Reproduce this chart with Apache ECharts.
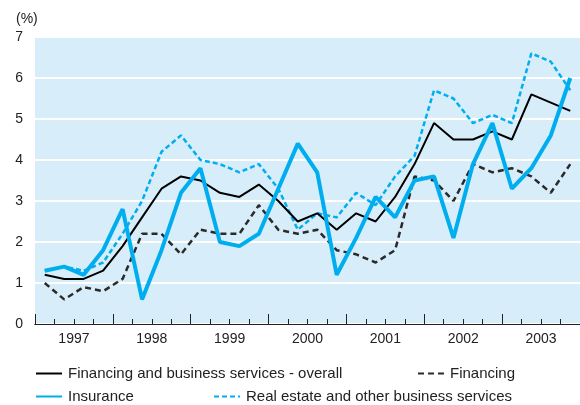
<!DOCTYPE html>
<html>
<head>
<meta charset="utf-8">
<script src="https://cdn.jsdelivr.net/npm/echarts@6/dist/echarts.min.js"></script>
<style>
  html, body { margin: 0; padding: 0; background: #fff; }
  #chart { width: 580px; height: 405px; }
</style>
</head>
<body>
<div id="chart"></div>
<script>
// quarters 1997 Q1 .. 2003 Q4
const years = ['1997', '1998', '1999', '2000', '2001', '2002', '2003']
const quarters = []
years.forEach(y => ['Q1', 'Q2', 'Q3', 'Q4'].forEach(q => quarters.push(y + ' ' + q)))

const overall = [1.2, 1.1, 1.1, 1.3, 1.9, 2.6, 3.3, 3.6, 3.5, 3.2, 3.1, 3.4, 3.0, 2.5, 2.7, 2.3,
  2.7, 2.5, 3.1, 3.9, 4.9, 4.5, 4.5, 4.7, 4.5, 5.6, 5.4, 5.2]
const financing = [1.0, 0.6, 0.9, 0.8, 1.1, 2.2, 2.2, 1.7, 2.3, 2.2, 2.2, 2.9, 2.3, 2.2, 2.3, 1.8,
  1.7, 1.5, 1.8, 3.6, 3.5, 3.0, 3.9, 3.7, 3.8, 3.6, 3.2, 3.9]
const insurance = [1.3, 1.4, 1.2, 1.8, 2.8, 0.6, 1.8, 3.2, 3.8, 2.0, 1.9, 2.2, 3.3, 4.4, 3.7, 1.2,
  2.1, 3.1, 2.6, 3.5, 3.6, 2.1, 3.9, 4.9, 3.3, 3.8, 4.6, 6.0]
const realEstate = [1.3, 1.4, 1.3, 1.5, 2.2, 3.0, 4.2, 4.6, 4.0, 3.9, 3.7, 3.9, 3.3, 2.3, 2.7, 2.6,
  3.2, 2.9, 3.6, 4.1, 5.7, 5.5, 4.9, 5.1, 4.9, 6.6, 6.4, 5.7]

const names = [
  'Financing and business services - overall',
  'Financing',
  'Insurance',
  'Real estate and other business services'
]

const blue = '#00aeef'
const font = 'Liberation Sans, Arial, sans-serif'

const legendBase = {
  itemWidth: 26,
  itemHeight: 12,
  selectedMode: false,
  itemStyle: { opacity: 0 },
  textStyle: { fontFamily: font, fontSize: 15, color: '#222', padding: [0, 0, 0, 1] }
}

const option = {
  animation: false,
  title: {
    text: '(%)',
    left: 11,
    top: 7,
    textStyle: { fontFamily: font, fontSize: 14, fontWeight: 'normal', color: '#222' }
  },
  legend: [
    Object.assign({ data: [names[0]], left: 30, top: 361 }, legendBase),
    Object.assign({ data: [names[1]], left: 412, top: 361 }, legendBase),
    Object.assign({ data: [names[2]], left: 30, top: 384 }, legendBase),
    Object.assign({ data: [names[3]], left: 208, top: 384 }, legendBase)
  ],
  grid: {
    left: 35,
    right: 0,
    top: 37,
    bottom: 81,
    show: true,
    backgroundColor: '#d7eefa',
    borderWidth: 0
  },
  xAxis: [
    {
      type: 'category',
      data: quarters,
      boundaryGap: true,
      axisLine: { lineStyle: { color: '#222', width: 1 } },
      axisTick: { show: true, inside: true, length: 5, interval: 0, lineStyle: { color: '#222' } },
      axisLabel: { show: false },
      splitLine: { show: false }
    },
    {
      type: 'category',
      data: years,
      position: 'bottom',
      boundaryGap: true,
      axisLine: { lineStyle: { color: '#222', width: 1 } },
      axisTick: { show: true, inside: true, length: 10, interval: 0, lineStyle: { color: '#222' } },
      axisLabel: { margin: 8, fontFamily: font, fontSize: 14, color: '#222' },
      splitLine: { show: false }
    }
  ],
  yAxis: {
    type: 'value',
    min: 0,
    max: 7,
    interval: 1,
    axisLine: { show: false },
    axisTick: { show: false },
    axisLabel: { margin: 12, fontFamily: font, fontSize: 14, color: '#222' },
    splitLine: { lineStyle: { color: '#fff', width: 2 } }
  },
  series: [
    {
      name: names[0],
      type: 'line',
      data: overall,
      symbol: 'none',
      z: 4,
      itemStyle: { color: '#000' },
      lineStyle: { color: '#000', width: 2 }
    },
    {
      name: names[1],
      type: 'line',
      data: financing,
      symbol: 'none',
      z: 3,
      itemStyle: { color: '#2a2a2a' },
      lineStyle: { color: '#2a2a2a', width: 2.5, type: [6, 4] }
    },
    {
      name: names[2],
      type: 'line',
      data: insurance,
      symbol: 'none',
      z: 5,
      itemStyle: { color: blue },
      lineStyle: { color: blue, width: 4 }
    },
    {
      name: names[3],
      type: 'line',
      data: realEstate,
      symbol: 'none',
      z: 2,
      itemStyle: { color: blue },
      lineStyle: { color: blue, width: 2.5, type: [5, 3] }
    }
  ]
}

const chart = echarts.init(document.getElementById('chart'))
chart.setOption(option)
</script>
</body>
</html>
